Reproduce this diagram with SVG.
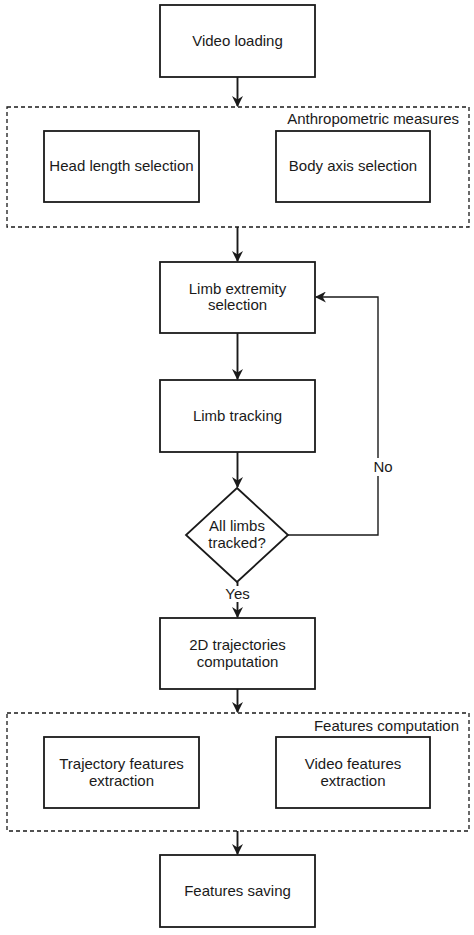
<svg xmlns="http://www.w3.org/2000/svg" width="474" height="935" viewBox="0 0 474 935">
<style>
.box{fill:#fff;stroke:#1a1a1a;stroke-width:1.8}
.grp{fill:none;stroke:#1a1a1a;stroke-width:1.3;stroke-dasharray:4 3}
.t{font-family:"Liberation Sans",Arial,sans-serif;font-size:15px;fill:#1a1a1a;text-anchor:middle}
.tr{font-family:"Liberation Sans",Arial,sans-serif;font-size:15px;fill:#1a1a1a;text-anchor:end}
.e{fill:none;stroke:#1a1a1a;stroke-width:1.9}
.e2{fill:none;stroke:#1a1a1a;stroke-width:1.4}
</style>
<defs>
<marker id="ah" viewBox="0 0 10 10" refX="9" refY="5" markerWidth="11" markerHeight="11" markerUnits="userSpaceOnUse" orient="auto">
<path d="M0,0 L10,5 L0,10 L3,5 z" fill="#1a1a1a"/>
</marker>
</defs>
<rect width="474" height="935" fill="#fff"/>
<g id="anthropometric-group">
<rect class="grp" x="7" y="107" width="462" height="120"/>
<text class="tr" x="459" y="124">Anthropometric measures</text>
</g>
<g id="features-group">
<rect class="grp" x="7" y="713" width="462" height="118"/>
<text class="tr" x="459" y="731">Features computation</text>
</g>
<g id="video-loading">
<rect class="box" x="160" y="5" width="155" height="72"/>
<text class="t" x="237.5" y="46">Video loading</text>
</g>
<g id="head-length">
<rect class="box" x="44" y="131" width="155" height="71"/>
<text class="t" x="121.5" y="171">Head length selection</text>
</g>
<g id="body-axis">
<rect class="box" x="276" y="131" width="154" height="71"/>
<text class="t" x="353" y="171">Body axis selection</text>
</g>
<g id="limb-extremity">
<rect class="box" x="160" y="262" width="155" height="71"/>
<text class="t" x="237.5" y="294">Limb extremity</text>
<text class="t" x="237.5" y="310">selection</text>
</g>
<g id="limb-tracking">
<rect class="box" x="160" y="380" width="155" height="72"/>
<text class="t" x="237.5" y="421">Limb tracking</text>
</g>
<g id="all-limbs">
<polygon class="box" points="237,488 288,535 237,582 186,535"/>
<text class="t" x="237" y="531">All limbs</text>
<text class="t" x="237" y="548">tracked?</text>
</g>
<g id="trajectories">
<rect class="box" x="160" y="618" width="155" height="71"/>
<text class="t" x="237.5" y="650">2D trajectories</text>
<text class="t" x="237.5" y="667">computation</text>
</g>
<g id="trajectory-features">
<rect class="box" x="44" y="737" width="155" height="71"/>
<text class="t" x="121.5" y="769">Trajectory features</text>
<text class="t" x="121.5" y="786">extraction</text>
</g>
<g id="video-features">
<rect class="box" x="276" y="737" width="154" height="71"/>
<text class="t" x="353" y="769">Video features</text>
<text class="t" x="353" y="786">extraction</text>
</g>
<g id="features-saving">
<rect class="box" x="160" y="855" width="155" height="72"/>
<text class="t" x="237.5" y="896">Features saving</text>
</g>
<g id="connectors">
<path class="e" d="M237.5,77 L237.5,106" marker-end="url(#ah)"/>
<path class="e" d="M237.5,227 L237.5,261" marker-end="url(#ah)"/>
<path class="e" d="M237.5,333 L237.5,379" marker-end="url(#ah)"/>
<path class="e" d="M237.5,452 L237.5,487" marker-end="url(#ah)"/>
<path class="e" d="M237.5,582 L237.5,617" marker-end="url(#ah)"/>
<path class="e" d="M237.5,689 L237.5,712" marker-end="url(#ah)"/>
<path class="e" d="M237.5,831 L237.5,854" marker-end="url(#ah)"/>
<path class="e2" d="M288,535 L378,535 L378,297 L316,297" marker-end="url(#ah)"/>
<rect x="370" y="458" width="20" height="18" fill="#fff"/>
<text class="t" x="383" y="472">No</text>
<rect x="222" y="586" width="32" height="16" fill="#fff"/>
<text class="t" x="237.5" y="599">Yes</text>
</g>
</svg>
